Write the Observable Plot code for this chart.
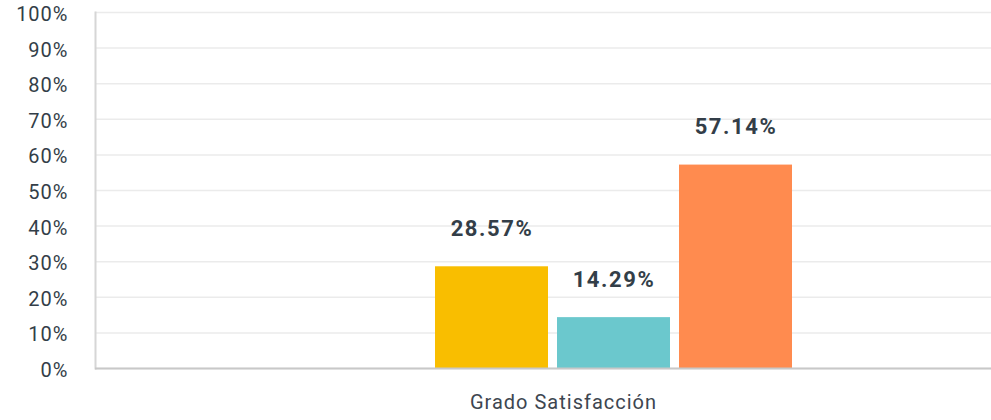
<!DOCTYPE html>
<html>
<head>
<meta charset="utf-8">
<script src="https://cdn.jsdelivr.net/npm/d3@7"></script>
<script src="https://cdn.jsdelivr.net/npm/@observablehq/plot@0.6"></script>
<style>
  html, body { margin: 0; padding: 0; background: #fff; }
  #chart svg { display: block; }
  #chart svg text { letter-spacing: 1px; }
  #chart svg .vlabel text { letter-spacing: 1.6px; }
</style>
</head>
<body>
<div id="chart"></div>
<script>
const categories = ["Grado Satisfacción"];
const series = ["Opción A", "Opción B", "Opción C"];
const values = [0.2857, 0.1429, 0.5714];
const labels = ["28.57%", "14.29%", "57.14%"];
const colors = ["#F9BE00", "#6BC8CD", "#FF8B4F"];
const yTicks = [0, 0.1, 0.2, 0.3, 0.4, 0.5, 0.6, 0.7, 0.8, 0.9, 1];

const data = series.map((s, i) => ({series: s, value: values[i], label: labels[i], category: categories[0]}));

const font = "Roboto, 'Open Sans', sans-serif";
const textColor = "#333e48";

const chart = Plot.plot({
  width: 991,
  height: 420,
  marginLeft: 95,
  marginRight: 0,
  marginTop: 12,
  marginBottom: 52,
  style: {fontFamily: font, fontSize: "20px", color: textColor, background: "#fff"},
  x: {domain: series, range: [430.5, 796.5], paddingInner: 0.074, paddingOuter: 0.037, axis: null},
  y: {domain: [0, 1], ticks: yTicks},
  color: {domain: series, range: colors},
  marks: [
    Plot.gridY(yTicks, {stroke: "#ebebeb", strokeOpacity: 1, strokeWidth: 1.5}),
    Plot.axisY(yTicks, {tickSize: 0, tickPadding: 27, dy: 2, tickFormat: d3.format(".0%"), fontSize: 20, label: null, fill: textColor}),
    Plot.barY(data, {x: "series", y: "value", fill: "series"}),
    Plot.text(data, {x: "series", y: "value", text: "label", dy: -38, fontSize: 22, fontWeight: "bold", fill: textColor, className: "vlabel"}),
    Plot.frame({anchor: "left", stroke: "#d6d6d6", strokeWidth: 2}),
    Plot.ruleY([0], {stroke: "#c8c8c8", strokeWidth: 2}),
    Plot.text(categories, {text: d => d, frameAnchor: "bottom", dx: 20, dy: 40, fontSize: 20, fill: "#3d4650"})
  ]
});
document.getElementById("chart").appendChild(chart);
</script>
</body>
</html>
